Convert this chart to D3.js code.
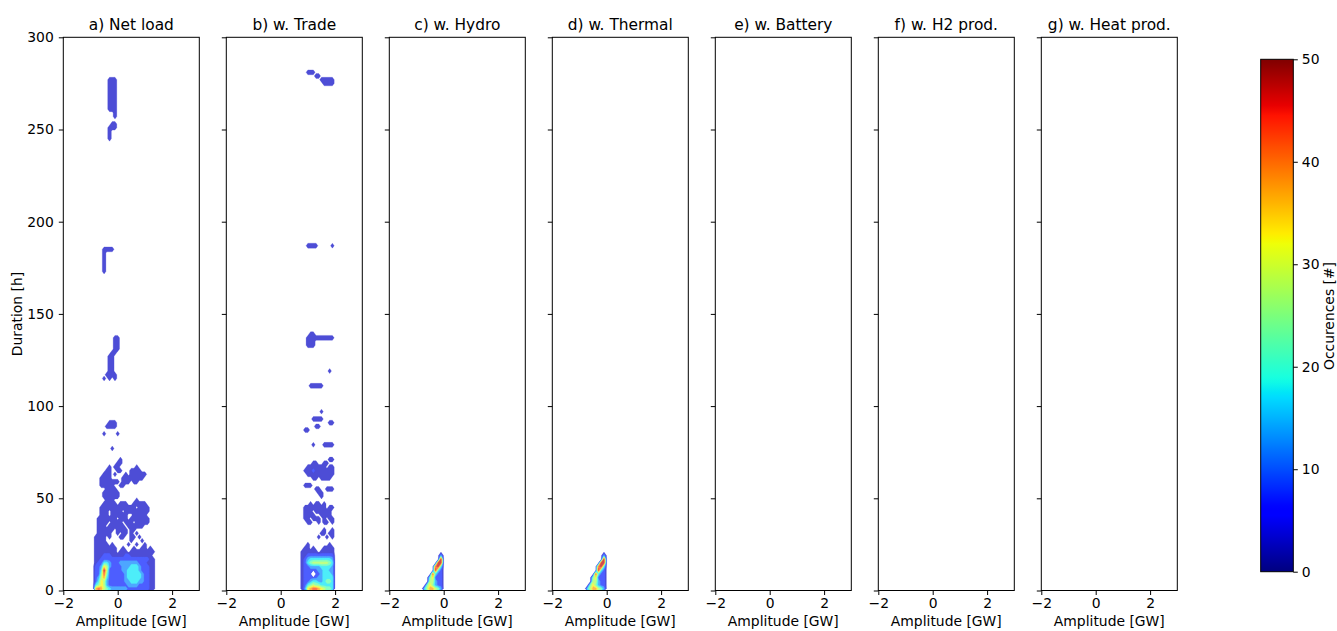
<!DOCTYPE html>
<html><head><meta charset="utf-8">
<script src="https://cdn.jsdelivr.net/npm/d3@7"></script>
<style>
body{margin:0;background:#fff}
text{font-family:"DejaVu Sans",sans-serif;fill:#000}
</style>
</head><body>
<svg id="chart" width="1337" height="631"></svg>
<script>
// ---------------- data ----------------
const panelTitles = ["a) Net load","b) w. Trade","c) w. Hydro","d) w. Thermal","e) w. Battery","f) w. H2 prod.","g) w. Heat prod."];
const xTicks = [-2,0,2];
const yTicks = [0,50,100,150,200,250,300];
const cbTicks = [0,10,20,30,40,50];
const xLabel = "Amplitude [GW]";
const yLabel = "Duration [h]";
const cbLabel = "Occurences [#]";
// occurrence counts per code character
const levelCodes  = ".123456789X";
const levelCounts = [0,3,8,13,18,23,28,33,38,43,48];
const contourLevels = [1,5,10,15,20,25,30,35,40,45,50];
// rows: [duration bin start (h), amplitude of first bin (GW), codes per 0.1 GW bin]
const netLoadRows = [
 [0,-0.8,"8986543333332222222211"],
 [2,-0.8,"4576322222223333222211"],
 [4,-0.8,"2476322222233444332211"],
 [6,-0.8,"2368422222234444432211"],
 [8,-0.8,"2259522222234444432211"],
 [10,-0.8,"224X622222334444322211"],
 [12,-0.8,"2237632222333444322211"],
 [14,-0.8,"1224432223333333222111"],
 [16,-0.8,"1122222222222222222211"],
 [18,-0.8,"111222111112211111111."],
 [20,-0.8,"11111111.111.111111111"],
 [22,-0.8,"11111111..1...1..11.1."],
 [24,-0.8,"11111.1.....1..1..1..."],
 [26,-0.8,"1111.........1...1...."],
 [28,-0.8,"1111.1...11..11.1....."],
 [30,-0.8,".11111..1.11.1.1......"],
 [32,-0.8,".111111.1111.11......."],
 [34,-0.8,".111.111111.111111...."],
 [36,-0.8,".1111.1111.111.11111.."],
 [38,-0.8,".1111111.111.1111111.."],
 [40,-0.8,"..111.111111..11111..."],
 [42,-0.8,"..111.1111.111111111.."],
 [44,-0.8,"..1111111111111.1111.."],
 [46,-0.8,"...11111.111..11111..."],
 [48,-0.8,"....111........1......"],
 [50,-0.8,"...111111............."],
 [52,-0.8,"...111111............."],
 [54,-0.8,"....1111.............."],
 [56,-0.8,"..11111..11..........."],
 [58,-0.8,"..1111111.111.11......"],
 [60,-0.8,"..1111....11111111...."],
 [62,-0.8,"...111.1...1.111111..."],
 [64,-0.8,"....11..11...1111....."],
 [66,-0.8,".....1.11......1......"],
 [68,-0.8,"........11............"],
 [70,-0.8,".........1............"],
 [76,-0.8,"......1..............."],
 [84,-0.8,"...1....1............."],
 [88,-0.8,"....1111.............."],
 [90,-0.8,".....111.............."],
 [114,-0.5,"1.1.1"],
 [116,-0.4,"1111"],
 [118,-0.3,"11"],[120,-0.3,"11"],[122,-0.3,"11"],[124,-0.3,"11"],[126,-0.3,"11"],
 [128,-0.2,"11"],
 [130,-0.1,"11"],[132,-0.1,"11"],[134,-0.1,"11"],[136,-0.1,"11"],
 [172,-0.5,"1"],[174,-0.5,"1"],[176,-0.5,"1"],[178,-0.5,"1"],[180,-0.5,"1"],[182,-0.5,"1"],
 [184,-0.5,"1111"],
 [244,-0.3,"1"],[246,-0.3,"1"],[248,-0.3,"1"],[250,-0.3,"111"],[252,-0.2,"11"],
 [256,-0.1,"1"],[258,-0.1,"1"],
 [260,-0.3,"111"],[262,-0.3,"111"],[264,-0.3,"111"],[266,-0.3,"111"],[268,-0.3,"111"],
 [270,-0.3,"111"],[272,-0.3,"111"],[274,-0.3,"111"],[276,-0.3,"111"]
];
const tradeRows = [
 [0,0.8,"137899876554"],
 [2,0.8,"124565544444"],
 [4,0.8,"122344334554"],
 [6,0.8,"122222334444"],
 [8,0.8,"122202234443"],
 [10,0.8,"122222334433"],
 [12,0.8,"122333344443"],
 [14,0.8,"124566666654"],
 [16,0.8,"123444444443"],
 [18,0.8,"112222222222"],
 [20,0.8,"111111.11111"],
 [22,0.8,".11.1...1111"],
 [24,0.8,"..1.......1."],
 [28,1.4,"1..1.1"],
 [30,1.5,"11.11"],
 [32,1.6,"1..1"],
 [36,1.0,"11..1.11.1"],
 [38,0.9,"11.111.1.11"],
 [40,0.9,"1111..1111"],
 [42,0.9,"111.111111."],
 [44,0.9,"11111111.11"],
 [46,1.1,"1.11.1"],
 [50,1.5,"1"],
 [52,1.4,"11"],
 [54,1.3,"11..111"],
 [56,0.9,"111"],
 [60,1.2,"11.1111"],
 [62,1.0,"1111111111"],
 [64,0.9,"11121111111"],
 [66,1.0,"1111111.11"],
 [68,1.2,"11..11"],
 [70,1.8,"11"],
 [78,1.2,"1...1111"],
 [86,0.9,"11"],
 [88,1.3,"11"],
 [90,1.8,"11"],
 [92,1.2,"1111"],
 [96,1.5,"1"],
 [110,1.1,"11111"],
 [118,1.8,"1"],
 [132,1.0,"111"],
 [134,1.0,"111"],
 [136,1.0,"1111111111"],
 [138,1.1,"11"],
 [186,1.0,"1111.....1"],
 [274,1.6,"1111"],
 [276,1.5,"11111"],
 [278,1.3,"11"],
 [280,1.0,"111"]
];
const hydroRows = [
 [0,-0.8,".4688653"],
 [2,-0.8,"..575322"],
 [4,-0.8,"...66322"],
 [6,-0.8,"...57222"],
 [8,-0.8,"....9422"],
 [10,-0.8,".....X42"],
 [12,-0.8,".....9X4"],
 [14,-0.8,"......XX"],
 [16,-0.8,".......X"],
 [18,-0.8,".......3"]
];
const thermalRows = [
 [0,-0.8,".4688653"],
 [2,-0.8,"..575322"],
 [4,-0.8,"...66322"],
 [6,-0.8,"...57222"],
 [8,-0.8,"....9422"],
 [10,-0.8,".....X42"],
 [12,-0.8,".....9X4"],
 [14,-0.8,"......XX"],
 [16,-0.8,".......X"],
 [18,-0.8,".......3"]
];
const batteryRows = [];
const h2Rows = [];
const heatRows = [];
const panelRows = [netLoadRows, tradeRows, hydroRows, thermalRows, batteryRows, h2Rows, heatRows];

// ---------------- grid definition ----------------
const AMP0 = -2, AMP_STEP = 0.1, DUR_STEP = 2, NX = 51, NY = 150;
function buildGrid(rows){
  const g = new Array(NX*NY).fill(0);
  rows.forEach(([dur, amp0, codes]) => {
    const j = Math.round(dur/DUR_STEP);
    const k0 = Math.round((amp0 - AMP0)/AMP_STEP);
    for (let i=0;i<codes.length;i++){
      g[j*NX + k0 + i] = levelCounts[levelCodes.indexOf(codes[i])];
    }
  });
  return g;
}

// ---------------- colour map (jet) ----------------
const jetSeg = {
  r:[[0,0],[0.35,0],[0.66,1],[0.89,1],[1,0.5]],
  g:[[0,0],[0.125,0],[0.375,1],[0.64,1],[0.91,0],[1,0]],
  b:[[0,0.5],[0.11,1],[0.34,1],[0.65,0],[1,0]]
};
function seg(s,t){
  for(let i=1;i<s.length;i++){ if(t<=s[i][0]){const [x0,y0]=s[i-1],[x1,y1]=s[i];return y0+(y1-y0)*(t-x0)/(x1-x0);} }
  return s[s.length-1][1];
}
function jet(t){ return [seg(jetSeg.r,t),seg(jetSeg.g,t),seg(jetSeg.b,t)]; }
function rgb(c){ return `rgb(${Math.round(c[0]*255)},${Math.round(c[1]*255)},${Math.round(c[2]*255)})`; }
const FILL_ALPHA = 0.7, VMAX = 50;
function bandColor(k){
  const mid = (contourLevels[k]+contourLevels[k+1])/2;
  const c = jet(mid/VMAX);
  return rgb(c.map(v => v*FILL_ALPHA + (1-FILL_ALPHA)));
}

// ---------------- layout ----------------
const svg = d3.select("#chart");
const plotTop = 37.3, plotBottom = 590.5, panelW = 136, panelStep = 163, firstLeft = 63.3;
const FS = "13.9px";
const ys = d3.scaleLinear().domain([0,300]).range([plotBottom, plotTop]);
const defs = svg.append("defs");
const fillThresholds = contourLevels.slice(0,-1);
const intFmt = d3.format("d");

panelTitles.forEach((title,i) => {
  const left = firstLeft + i*panelStep;
  const xs = d3.scaleLinear().domain([-2,3]).range([left, left+panelW]);
  const cid = "clip"+i;
  defs.append("clipPath").attr("id",cid).append("rect")
    .attr("x",left).attr("y",plotTop).attr("width",panelW).attr("height",plotBottom-plotTop);
  const grid = buildGrid(panelRows[i]);
  const cs = d3.contours().size([NX,NY]).thresholds(fillThresholds)(grid);
  const path = d3.geoPath(d3.geoTransform({point(x,y){
    this.stream.point(xs(AMP0 - AMP_STEP/2 + x*AMP_STEP), ys(y*DUR_STEP));
  }}));
  svg.append("g").attr("clip-path",`url(#${cid})`)
    .selectAll("path").data(cs).join("path")
    .attr("d", d => d.coordinates.length ? path(d) : null)
    .attr("fill",(d,k)=>bandColor(k))
    .attr("fill-rule","evenodd")
    .attr("stroke",(d,k)=>bandColor(k)).attr("stroke-width",0.25);

  // axes
  const ax = svg.append("g").attr("transform",`translate(0,${plotBottom})`)
    .call(d3.axisBottom(xs).tickValues(xTicks).tickFormat(intFmt).tickSize(4.5).tickPadding(3.5).tickSizeOuter(0));
  ax.select(".domain").remove();
  ax.selectAll("text").attr("font-size",FS).attr("font-family","DejaVu Sans");
  ax.selectAll("line").attr("stroke","#000");
  const ay = svg.append("g").attr("transform",`translate(${left},0)`)
    .call(d3.axisLeft(ys).tickValues(yTicks).tickSize(4.5).tickPadding(5).tickSizeOuter(0)
      .tickFormat(i===0 ? intFmt : () => ""));
  ay.select(".domain").remove();
  ay.selectAll("text").attr("font-size",FS).attr("font-family","DejaVu Sans");
  ay.selectAll("line").attr("stroke","#000");

  svg.append("rect").attr("x",left).attr("y",plotTop).attr("width",panelW).attr("height",plotBottom-plotTop)
    .attr("fill","none").attr("stroke","#000").attr("stroke-width",1);

  svg.append("text").attr("x",left+panelW/2).attr("y",29.5).attr("text-anchor","middle")
    .attr("font-size","15.4px").text(title);
  svg.append("text").attr("x",left+panelW/2).attr("y",626).attr("text-anchor","middle")
    .attr("font-size",FS).text(xLabel);
});

svg.append("text").attr("transform",`translate(22,314) rotate(-90)`).attr("text-anchor","middle")
  .attr("font-size",FS).text(yLabel);

// ---------------- colorbar ----------------
const cbX = 1260.7, cbW = 32.6, cbTop = 59.3, cbBottom = 571.7;
const grad = defs.append("linearGradient").attr("id","jetgrad")
  .attr("x1",0).attr("y1",1).attr("x2",0).attr("y2",0);
d3.range(0,1.0001,0.01).forEach(t => grad.append("stop").attr("offset",t).attr("stop-color",rgb(jet(t))));
svg.append("rect").attr("x",cbX).attr("y",cbTop).attr("width",cbW).attr("height",cbBottom-cbTop)
  .attr("fill","url(#jetgrad)").attr("stroke","#000").attr("stroke-width",1);
const cbScale = d3.scaleLinear().domain([0,VMAX]).range([cbBottom,cbTop]);
const cax = svg.append("g").attr("transform",`translate(${cbX+cbW},0)`)
  .call(d3.axisRight(cbScale).tickValues(cbTicks).tickSize(4.5).tickPadding(4).tickSizeOuter(0));
cax.select(".domain").remove();
cax.selectAll("text").attr("font-size",FS).attr("font-family","DejaVu Sans");
cax.selectAll("line").attr("stroke","#000");
svg.append("text").attr("transform",`translate(1334,316) rotate(-90)`).attr("text-anchor","middle")
  .attr("font-size",FS).text(cbLabel);
</script>
</body></html>
